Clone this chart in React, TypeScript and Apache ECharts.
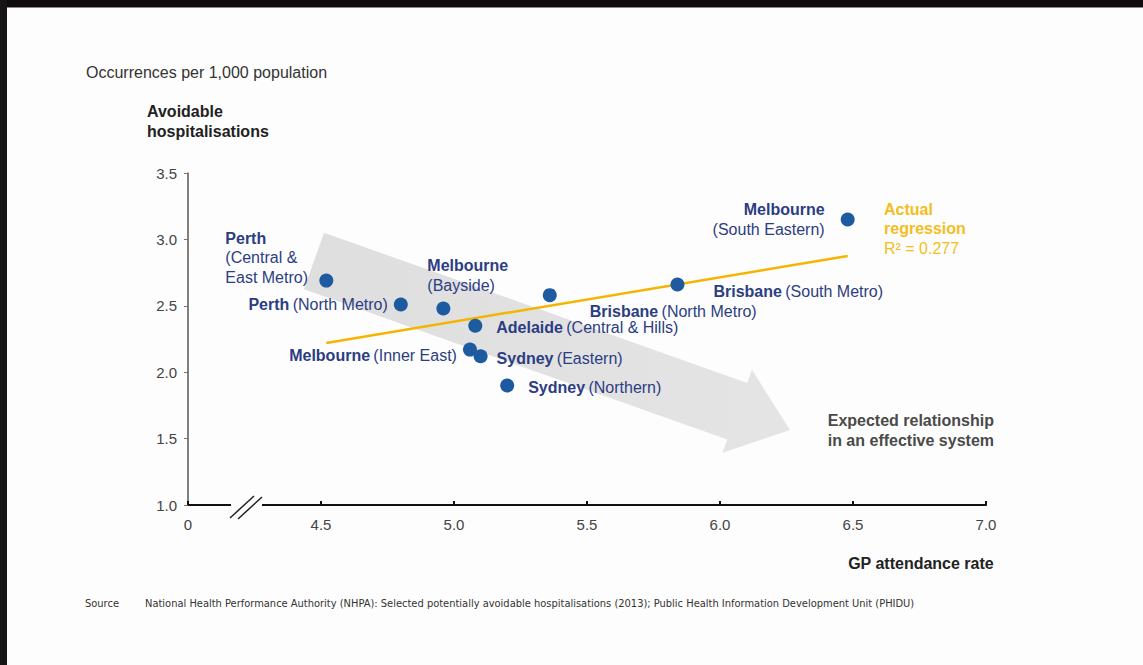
import React, { useEffect, useRef } from "react";
import * as echarts from "echarts";

// GP attendance rate vs avoidable hospitalisations per region
const regionNames = [
  "Perth|(Central &\nEast Metro)",
  "Perth|(North Metro)",
  "Melbourne|(Bayside)",
  "Brisbane|(North Metro)",
  "Brisbane|(South Metro)",
  "Melbourne|(South Eastern)",
  "Adelaide|(Central & Hills)",
  "Melbourne|(Inner East)",
  "Sydney|(Eastern)",
  "Sydney|(Northern)",
];
const gpRate = [4.52, 4.8, 4.96, 5.36, 5.84, 6.48, 5.08, 5.06, 5.1, 5.2];
const avoidable = [2.69, 2.51, 2.48, 2.58, 2.66, 3.15, 2.35, 2.17, 2.12, 1.9];

// Fitted regression line endpoints
const regX = [4.52, 6.48];
const regY = [2.22, 2.875];

const xTicks = { min: 4, max: 7, step: 0.5 };
const yTicks = { min: 1, max: 3.5, step: 0.5 };

// Label placement per point: [offsetX, offsetY, align, stacked]
const labelPlacement: [number, number, string, boolean][] = [
  [-101, -23, "left", true],
  [-13, 0, "right", false],
  [-16, -33, "left", true],
  [40, 16, "left", false],
  [36, 7, "left", false],
  [-23, 0, "right", true],
  [21, 2, "left", false],
  [-13, 6, "right", false],
  [16, 2, "left", false],
  [21, 2, "left", false],
];

const FONT = "'Liberation Sans', Arial, sans-serif";
const NAVY = "#2c3d82";

function labelText(name: string, stacked: boolean) {
  const [bold, rest] = name.split("|");
  const restLines = rest.split("\n").map((l) => `{n|${l}}`);
  if (stacked) return [`{b|${bold}}`, ...restLines].join("\n");
  return `{b|${bold}} ${restLines.join("")}`;
}

export default function App() {
  const ref = useRef<HTMLDivElement>(null);

  useEffect(() => {
    if (!ref.current) return;
    const chart = echarts.init(ref.current, null, { renderer: "svg" });

    const points = gpRate.map((x, i) => {
      const [ox, oy, align, stacked] = labelPlacement[i];
      return {
        value: [x, avoidable[i]],
        label: {
          show: true,
          position: "inside",
          offset: [ox, oy],
          align,
          verticalAlign: "middle",
          formatter: labelText(regionNames[i], stacked),
          lineHeight: 19.5,
          rich: {
            b: { fontFamily: FONT, fontWeight: "bold", fontSize: 16, color: NAVY, lineHeight: 19.5 },
            n: { fontFamily: FONT, fontSize: 16, color: NAVY, lineHeight: 19.5 },
          },
        },
      };
    });

    // Gray arrow showing the expected direction
    const tail = [314, 261];
    const tip = [790, 430];
    const dx = tip[0] - tail[0];
    const dy = tip[1] - tail[1];
    const len = Math.hypot(dx, dy);
    const u = [dx / len, dy / len];
    const n = [-u[1], u[0]];
    const bodyHalf = 30;
    const headHalf = 44;
    const headLen = 56;
    const base = [tip[0] - u[0] * headLen, tip[1] - u[1] * headLen];
    const arrowPts = [
      [tail[0] - n[0] * bodyHalf, tail[1] - n[1] * bodyHalf],
      [base[0] - n[0] * bodyHalf, base[1] - n[1] * bodyHalf],
      [base[0] - n[0] * headHalf, base[1] - n[1] * headHalf],
      tip,
      [base[0] + n[0] * headHalf, base[1] + n[1] * headHalf],
      [base[0] + n[0] * bodyHalf, base[1] + n[1] * bodyHalf],
      [tail[0] + n[0] * bodyHalf, tail[1] + n[1] * bodyHalf],
    ];

    chart.setOption({
      animation: false,
      backgroundColor: "#fdfdfd",
      grid: { left: 188, right: 157, top: 173, bottom: 160, containLabel: false },
      xAxis: {
        type: "value",
        min: xTicks.min,
        max: xTicks.max,
        interval: xTicks.step,
        axisLine: { show: true, lineStyle: { color: "#111", width: 2 } },
        axisTick: { show: true, inside: true, length: 4, lineStyle: { color: "#111", width: 2 } },
        axisLabel: {
          margin: 12,
          fontFamily: FONT,
          fontSize: 15,
          color: "#444",
          formatter: (v: number) => (v === xTicks.min ? "0" : v.toFixed(1)),
        },
        splitLine: { show: false },
      },
      yAxis: {
        type: "value",
        min: yTicks.min,
        max: yTicks.max,
        interval: yTicks.step,
        axisLine: { show: true, lineStyle: { color: "#555", width: 1.5 } },
        axisTick: { show: true, length: 4, lineStyle: { color: "#777" } },
        axisLabel: {
          margin: 11,
          fontFamily: FONT,
          fontSize: 15,
          color: "#444",
          formatter: (v: number) => v.toFixed(1),
        },
        splitLine: { show: false },
      },
      series: [
        {
          type: "line",
          data: regX.map((x, i) => [x, regY[i]]),
          showSymbol: false,
          symbol: "none",
          lineStyle: { color: "#f4b400", width: 2.5 },
          z: 3,
          silent: true,
        },
        {
          type: "scatter",
          data: points,
          symbolSize: 14,
          itemStyle: { color: "#1d5aa0", opacity: 1 },
          z: 4,
        },
      ],
      graphic: [
        {
          type: "polygon",
          z: 1,
          shape: { points: arrowPts },
          style: {
            fill: new echarts.graphic.LinearGradient(0, 0, 1, 0, [
              { offset: 0, color: "rgba(212,212,212,0.75)" },
              { offset: 1, color: "rgba(220,220,220,0.75)" },
            ]),
          },
        },
        // axis break marks
        { type: "rect", z: 50, shape: { x: 231, y: 500, width: 31, height: 10 }, style: { fill: "#fdfdfd" } },
        { type: "line", z: 51, shape: { x1: 230, y1: 518, x2: 254, y2: 496 }, style: { stroke: "#222", lineWidth: 1.5 } },
        { type: "line", z: 51, shape: { x1: 238, y1: 519, x2: 262, y2: 497 }, style: { stroke: "#222", lineWidth: 1.5 } },
        // frame edges
        { type: "rect", z: 60, shape: { x: 0, y: 0, width: 1143, height: 7 }, style: { fill: "#110d0e" } },
        { type: "line", z: 60, shape: { x1: 0, y1: 7.5, x2: 1143, y2: 7.5 }, style: { stroke: "#8a8a8a", lineWidth: 1 } },
        { type: "rect", z: 60, shape: { x: 0, y: 0, width: 7, height: 665 }, style: { fill: "#151515" } },
        // titles and notes
        {
          type: "text",
          z: 20,
          left: 86,
          top: 64,
          style: { text: "Occurrences per 1,000 population", font: `16px ${FONT}`, fill: "#333" },
        },
        {
          type: "text",
          z: 20,
          left: 147,
          top: 102,
          style: {
            text: "Avoidable\nhospitalisations",
            font: `bold 16px ${FONT}`,
            fill: "#222",
            lineHeight: 19.5,
          },
        },
        {
          type: "text",
          z: 20,
          right: 1143 - 994,
          top: 555,
          style: { text: "GP attendance rate", font: `bold 16px ${FONT}`, fill: "#222", align: "right" },
        },
        {
          type: "text",
          z: 20,
          right: 1143 - 994,
          top: 411,
          style: {
            text: "Expected relationship\nin an effective system",
            font: `bold 16px ${FONT}`,
            fill: "#4a4a4a",
            lineHeight: 19.5,
            align: "right",
          },
        },
        {
          type: "text",
          z: 20,
          left: 884,
          top: 201,
          style: {
            text: "{b|Actual}\n{b|regression}\n{n|R² = 0.277}",
            rich: {
              b: { fontFamily: FONT, fontWeight: "bold", fontSize: 16, fill: "#f3bd1c", lineHeight: 19.5 },
              n: { fontFamily: FONT, fontSize: 16, fill: "#f3bd1c", lineHeight: 19.5 },
            },
          },
        },
        {
          type: "text",
          z: 20,
          left: 85,
          top: 598,
          style: { text: "Source", font: `11px 'Liberation Sans Narrow', 'DejaVu Sans Condensed', sans-serif`, fill: "#333" },
        },
        {
          type: "text",
          z: 20,
          left: 145,
          top: 598,
          style: {
            text: "National Health Performance Authority (NHPA): Selected potentially avoidable hospitalisations (2013); Public Health Information Development Unit (PHIDU)",
            font: `11px 'Liberation Sans Narrow', 'DejaVu Sans Condensed', sans-serif`,
            fill: "#333",
          },
        },
      ],
    });

    return () => chart.dispose();
  }, []);

  return (
    <div
      ref={ref}
      style={{ position: "fixed", left: 0, top: 0, width: 1143, height: 665 }}
    />
  );
}
